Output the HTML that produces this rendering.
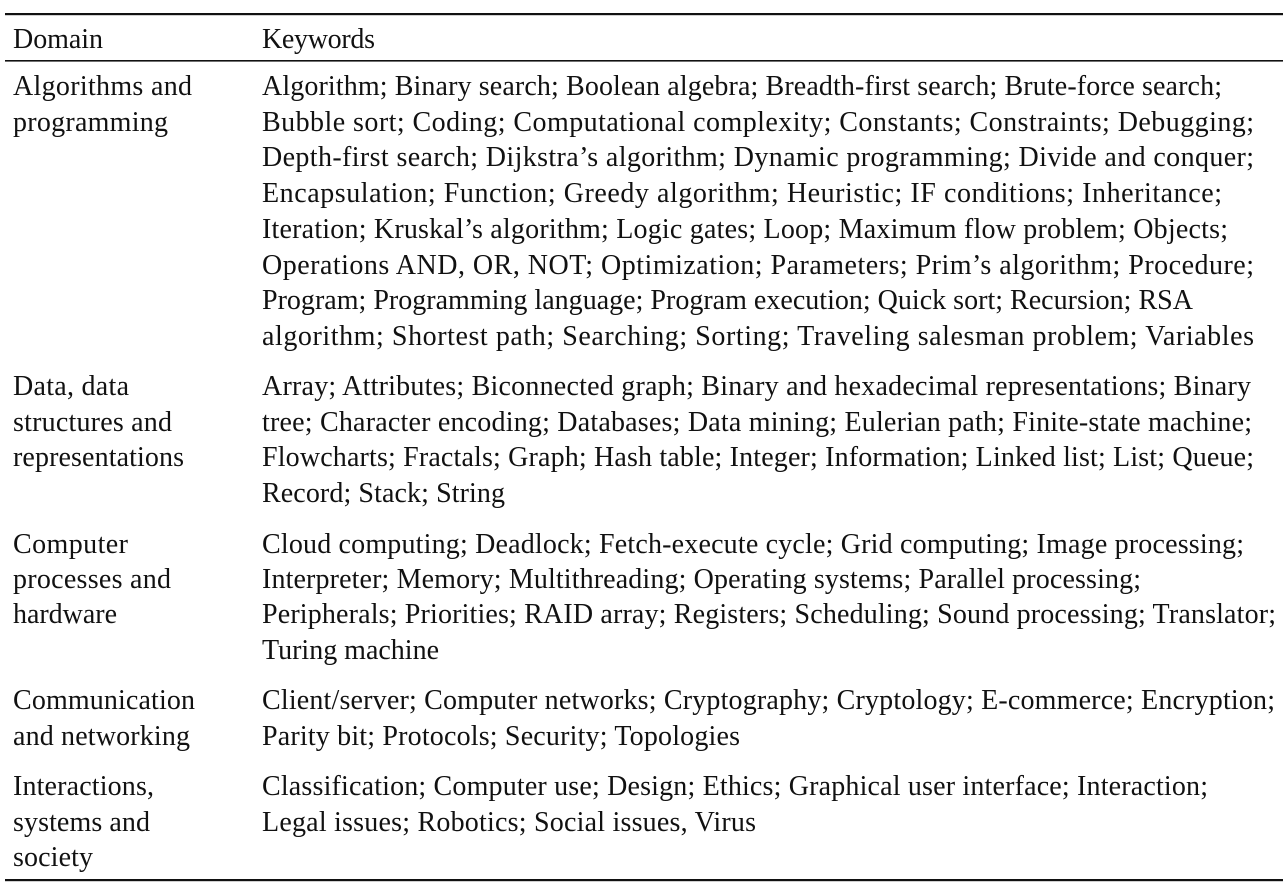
<!DOCTYPE html>
<html><head><meta charset="utf-8"><style>
html,body{margin:0;padding:0;background:#fff;}
svg{display:block}
text{font-family:"Liberation Serif",serif;font-size:28px;fill:#111;}
</style></head><body>
<svg width="1288" height="896" xmlns="http://www.w3.org/2000/svg">
<rect x="5" y="13" width="1278" height="2.2" fill="#111"/>
<rect x="5" y="60" width="1278" height="1.6" fill="#111"/>
<rect x="5" y="879" width="1278" height="2.2" fill="#111"/>
<g lengthAdjust="spacingAndGlyphs">
<text x="13" y="48" textLength="90">Domain</text>
<text x="262" y="48" textLength="113">Keywords</text>

<text x="13" y="95" textLength="179">Algorithms and</text>
<text x="13" y="131" textLength="155">programming</text>
<text x="262" y="95" textLength="960">Algorithm; Binary search; Boolean algebra; Breadth-first search; Brute-force search;</text>
<text x="262" y="131" textLength="992">Bubble sort; Coding; Computational complexity; Constants; Constraints; Debugging;</text>
<text x="262" y="166" textLength="992">Depth-first search; Dijkstra’s algorithm; Dynamic programming; Divide and conquer;</text>
<text x="262" y="202" textLength="960">Encapsulation; Function; Greedy algorithm; Heuristic; IF conditions; Inheritance;</text>
<text x="262" y="238" textLength="966">Iteration; Kruskal’s algorithm; Logic gates; Loop; Maximum flow problem; Objects;</text>
<text x="262" y="274" textLength="992">Operations AND, OR, NOT; Optimization; Parameters; Prim’s algorithm; Procedure;</text>
<text x="262" y="309" textLength="931">Program; Programming language; Program execution; Quick sort; Recursion; RSA</text>
<text x="262" y="345" textLength="992">algorithm; Shortest path; Searching; Sorting; Traveling salesman problem; Variables</text>

<text x="13" y="395" textLength="116">Data, data</text>
<text x="13" y="431" textLength="159">structures and</text>
<text x="13" y="466" textLength="171">representations</text>
<text x="262" y="395" textLength="989">Array; Attributes; Biconnected graph; Binary and hexadecimal representations; Binary</text>
<text x="262" y="431" textLength="990">tree; Character encoding; Databases; Data mining; Eulerian path; Finite-state machine;</text>
<text x="262" y="466" textLength="992">Flowcharts; Fractals; Graph; Hash table; Integer; Information; Linked list; List; Queue;</text>
<text x="262" y="502" textLength="243">Record; Stack; String</text>

<text x="13" y="553" textLength="115">Computer</text>
<text x="13" y="588" textLength="158">processes and</text>
<text x="13" y="623" textLength="104">hardware</text>
<text x="262" y="553" textLength="982">Cloud computing; Deadlock; Fetch-execute cycle; Grid computing; Image processing;</text>
<text x="262" y="588" textLength="879">Interpreter; Memory; Multithreading; Operating systems; Parallel processing;</text>
<text x="262" y="623" textLength="1014">Peripherals; Priorities; RAID array; Registers; Scheduling; Sound processing; Translator;</text>
<text x="262" y="659" textLength="177">Turing machine</text>

<text x="13" y="709" textLength="182">Communication</text>
<text x="13" y="745" textLength="177">and networking</text>
<text x="262" y="709" textLength="1013">Client/server; Computer networks; Cryptography; Cryptology; E-commerce; Encryption;</text>
<text x="262" y="745" textLength="478">Parity bit; Protocols; Security; Topologies</text>

<text x="13" y="795" textLength="141">Interactions,</text>
<text x="13" y="831" textLength="137">systems and</text>
<text x="13" y="866" textLength="80">society</text>
<text x="262" y="795" textLength="946">Classification; Computer use; Design; Ethics; Graphical user interface; Interaction;</text>
<text x="262" y="831" textLength="494">Legal issues; Robotics; Social issues, Virus</text>
</g>
</svg>
</body></html>
